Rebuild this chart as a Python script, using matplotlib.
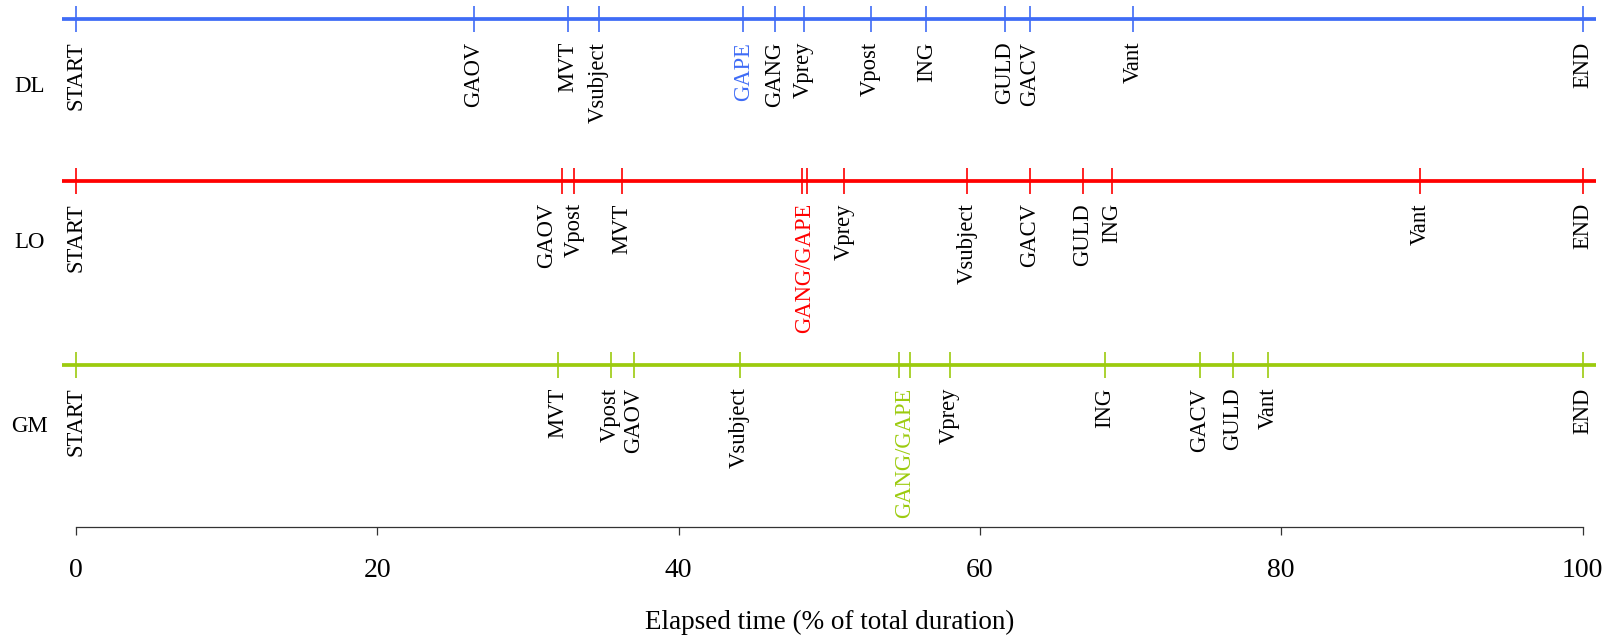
import matplotlib
matplotlib.use("Agg")
import matplotlib.pyplot as plt

plt.rcParams['font.family'] = ['Liberation Serif', 'DejaVu Serif']

# ---- data ----
rows = ["DL", "LO", "GM"]
colors = {"DL": "#3F6CF6", "LO": "#FF0000", "GM": "#9CCB0E"}

dl_events = ["START", "GAOV", "MVT", "Vsubject", "GAPE", "GANG", "Vprey", "Vpost",
             "ING", "GULD", "GACV", "Vant", "END"]
dl_values = [0, 26.4, 32.65, 34.7, 44.3, 46.4, 48.3, 52.75, 56.45, 61.65, 63.3, 70.15, 100]

lo_events = ["START", "GAOV", "Vpost", "MVT", "GANG", "GAPE", "Vprey", "Vsubject",
             "GACV", "GULD", "ING", "Vant", "END"]
lo_values = [0, 32.25, 33.05, 36.25, 48.2, 48.5, 51.0, 59.15, 63.3, 66.85, 68.75, 89.2, 100]

gm_events = ["START", "MVT", "Vpost", "GAOV", "Vsubject", "GANG", "GAPE", "Vprey",
             "ING", "GACV", "GULD", "Vant", "END"]
gm_values = [0, 32.0, 35.5, 37.05, 44.05, 54.65, 55.35, 58.0, 68.3, 74.6, 76.8, 79.15, 100]

row_events = {"DL": (dl_events, dl_values), "LO": (lo_events, lo_values), "GM": (gm_events, gm_values)}

x_ticks = [0, 20, 40, 60, 80, 100]
x_label = "Elapsed time (% of total duration)"

# ---- layout (pixel-like y coordinates from top) ----
W, H = 1619, 639
row_y = {"DL": 19.3, "LO": 180.7, "GM": 365.0}
row_label_y = {"DL": 86, "LO": 243, "GM": 427}
label_gap = 22.5
tick_half = 13.0
label_nudge = {("LO", "GAOV"): -1.0}
combined = {"LO": True, "GM": True, "DL": False}

px0, px100 = 75.9, 1582.5
scale = (px100 - px0) / 100.0
axis_y = 526.7

fig = plt.figure(figsize=(W / 100, H / 100), dpi=100)
ax = fig.add_axes([0, (H - axis_y) / H, 1, axis_y / H])
ax.set_xlim(-px0 / scale, 100 + (W - px100) / scale)
ax.set_ylim(axis_y, 0)

for r in rows:
    names, vals = row_events[r]
    c = colors[r]
    y = row_y[r]
    ax.hlines(y, -0.9, 100.9, color=c, lw=2.7, zorder=2)
    ax.vlines(vals, y - tick_half, y + tick_half, color=c, lw=1.2, zorder=2)
    drawn = set()
    for n, v in zip(names, vals):
        if combined[r] and n in ("GANG", "GAPE"):
            if "GG" in drawn:
                continue
            drawn.add("GG")
            gv = [vv for nn, vv in zip(names, vals) if nn in ("GANG", "GAPE")]
            ax.text(sum(gv) / len(gv), y + label_gap, "GANG/GAPE", rotation=90,
                    ha="center", va="top", fontsize=16.3, color=c)
            continue
        col = c if n == "GAPE" else "black"
        ax.text(v + label_nudge.get((r, n), 0.0), y + label_gap, n, rotation=90,
                ha="center", va="top", fontsize=16.3, color=col)
    ax.text(-px0 / scale + 30 / scale, row_label_y[r], r, ha="center", va="center",
            fontsize=16.5, color="black")

for s in ["left", "top", "right"]:
    ax.spines[s].set_visible(False)
ax.spines["bottom"].set_bounds(0, 100)
ax.spines["bottom"].set_color("#333333")
ax.spines["bottom"].set_linewidth(0.9)
ax.set_yticks([])
ax.set_xticks(x_ticks)
ax.set_xticklabels([str(t) for t in x_ticks])
ax.tick_params(axis="x", length=5.8, width=0.9, color="#333333", pad=17, labelsize=20)

fig.text(((px0 + px100) / 2) / W, (H - 629) / H, x_label, ha="center", va="baseline",
         fontsize=19.5)

fig.savefig("out.png", dpi=100)
